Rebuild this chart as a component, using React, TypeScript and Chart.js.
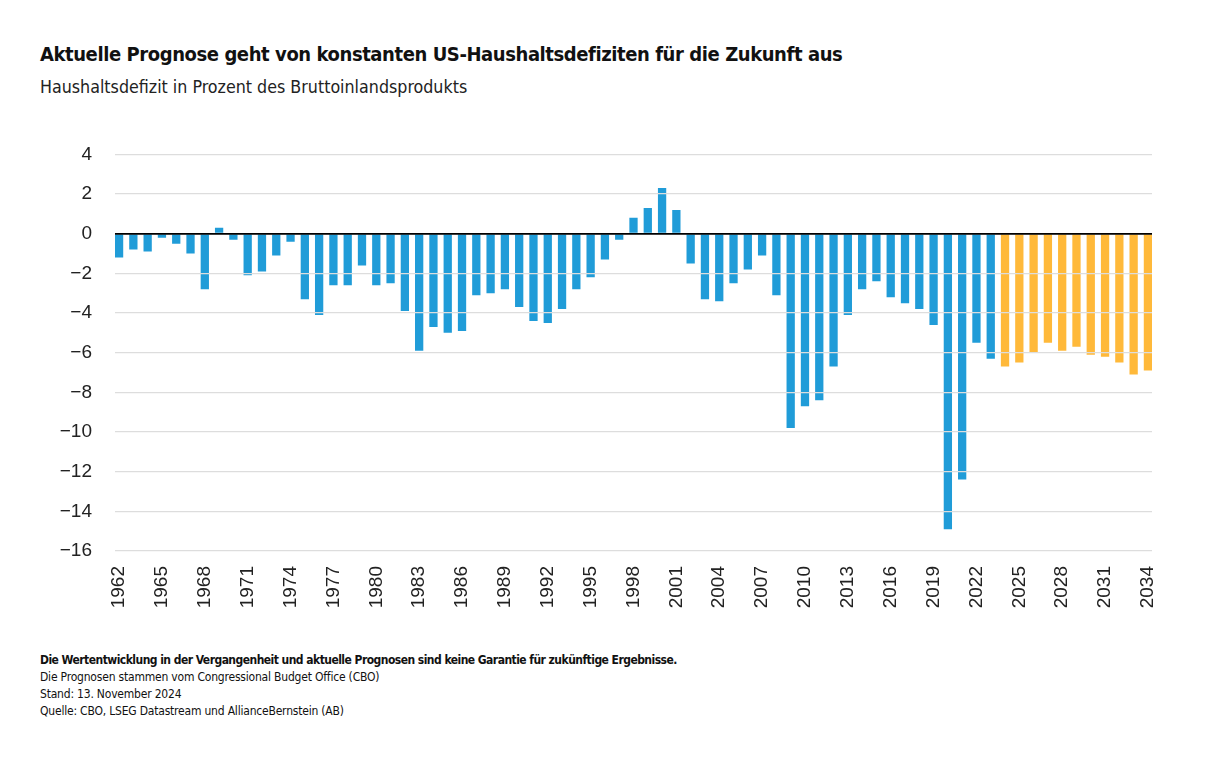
import React, { useEffect, useRef } from "react";
import { Chart, registerables } from "chart.js";

Chart.register(...registerables);

const TITLE = "Aktuelle Prognose geht von konstanten US-Haushaltsdefiziten für die Zukunft aus";
const SUBTITLE = "Haushaltsdefizit in Prozent des Bruttoinlandsprodukts";
const NOTES = [
  "Die Wertentwicklung in der Vergangenheit und aktuelle Prognosen sind keine Garantie für zukünftige Ergebnisse.",
  "Die Prognosen stammen vom Congressional Budget Office (CBO)",
  "Stand: 13. November 2024",
  "Quelle: CBO, LSEG Datastream und AllianceBernstein (AB)",
];

const histYears = [
  1962, 1963, 1964, 1965, 1966, 1967, 1968, 1969, 1970, 1971,
  1972, 1973, 1974, 1975, 1976, 1977, 1978, 1979, 1980, 1981,
  1982, 1983, 1984, 1985, 1986, 1987, 1988, 1989, 1990, 1991,
  1992, 1993, 1994, 1995, 1996, 1997, 1998, 1999, 2000, 2001,
  2002, 2003, 2004, 2005, 2006, 2007, 2008, 2009, 2010, 2011,
  2012, 2013, 2014, 2015, 2016, 2017, 2018, 2019, 2020, 2021,
  2022, 2023,
];
const histValues = [
  -1.2, -0.8, -0.9, -0.2, -0.5, -1.0, -2.8, 0.3, -0.3, -2.1,
  -1.9, -1.1, -0.4, -3.3, -4.1, -2.6, -2.6, -1.6, -2.6, -2.5,
  -3.9, -5.9, -4.7, -5.0, -4.9, -3.1, -3.0, -2.8, -3.7, -4.4,
  -4.5, -3.8, -2.8, -2.2, -1.3, -0.3, 0.8, 1.3, 2.3, 1.2,
  -1.5, -3.3, -3.4, -2.5, -1.8, -1.1, -3.1, -9.8, -8.7, -8.4,
  -6.7, -4.1, -2.8, -2.4, -3.2, -3.5, -3.8, -4.6, -14.9, -12.4,
  -5.5, -6.3,
];
const forecastYears = [2024, 2025, 2026, 2027, 2028, 2029, 2030, 2031, 2032, 2033, 2034];
const forecastValues = [-6.7, -6.5, -6.0, -5.5, -5.9, -5.7, -6.1, -6.2, -6.5, -7.1, -6.9];

const xTickYears = [
  1962, 1965, 1968, 1971, 1974, 1977, 1980, 1983, 1986, 1989, 1992, 1995,
  1998, 2001, 2004, 2007, 2010, 2013, 2016, 2019, 2022, 2025, 2028, 2031, 2034,
];
const yTicks = [4, 2, 0, -2, -4, -6, -8, -10, -12, -14, -16];

const BLUE = "#209CD8";
const ORANGE = "#FFB93A";

export default function App() {
  const canvasRef = useRef<HTMLCanvasElement | null>(null);

  useEffect(() => {
    const canvas = canvasRef.current;
    if (!canvas) return;
    const chart = new Chart(canvas, {
      type: "bar",
      data: {
        datasets: [
          {
            label: "Ist",
            data: histYears.map((y, i) => ({ x: y, y: histValues[i] })),
            backgroundColor: BLUE,
            grouped: false,
            categoryPercentage: 1,
            barPercentage: 0.58,
          } as any,
          {
            label: "Prognose",
            data: forecastYears.map((y, i) => ({ x: y, y: forecastValues[i] })),
            backgroundColor: ORANGE,
            grouped: false,
            categoryPercentage: 1,
            barPercentage: 0.58,
          } as any,
        ],
      },
      options: {
        animation: false,
        responsive: true,
        maintainAspectRatio: false,
        layout: { padding: { left: 0, right: 61, top: 31, bottom: 0 } },
        plugins: {
          legend: { display: false },
          tooltip: { enabled: false },
        },
        scales: {
          x: {
            type: "linear",
            offset: false,
            min: histYears[0] - 0.285,
            max: forecastYears[forecastYears.length - 1] + 0.285,
            afterBuildTicks: (scale: any) => {
              scale.ticks = xTickYears.map((v) => ({ value: v }));
            },
            afterFit: (scale: any) => {
              scale.height = 79;
            },
            grid: { display: false, drawTicks: false },
            border: { display: false },
            ticks: {
              autoSkip: false,
              minRotation: 90,
              maxRotation: 90,
              padding: 15,
              color: "#222",
              font: { family: "'Liberation Sans', Arial, sans-serif", size: 19 },
              callback: (v: any) => String(v),
            },
          },
          y: {
            min: -16,
            max: 4,
            afterBuildTicks: (scale: any) => {
              scale.ticks = yTicks.map((v) => ({ value: v }));
            },
            afterFit: (scale: any) => {
              scale.width = 115;
            },
            grid: {
              drawTicks: false,
              color: (ctx: any) => (ctx.tick && ctx.tick.value === 0 ? "#000" : "#dddddd"),
              lineWidth: (ctx: any) => (ctx.tick && ctx.tick.value === 0 ? 1.8 : 1.2),
              z: 1,
            },
            border: { display: false },
            ticks: {
              padding: 23,
              color: "#222",
              font: { family: "'Liberation Sans', Arial, sans-serif", size: 19 },
              callback: (v: any) => String(v).replace("-", "\u2212"),
            },
          },
        },
      },
    });
    return () => chart.destroy();
  }, []);

  const narrow = "'DejaVu Sans Condensed', 'Liberation Sans', Arial, sans-serif";

  return (
    <div
      style={{
        position: "fixed",
        left: 0,
        top: 0,
        width: 1213,
        height: 781,
        background: "#fff",
        overflow: "hidden",
      }}
    >
      <div
        style={{
          position: "absolute",
          left: 40,
          top: 43,
          fontFamily: narrow,
          fontWeight: 700,
          fontSize: 20,
          letterSpacing: "-0.42px",
          lineHeight: "22px",
          color: "#111",
          whiteSpace: "nowrap",
        }}
      >
        {TITLE}
      </div>
      <div
        style={{
          position: "absolute",
          left: 40,
          top: 77,
          fontFamily: narrow,
          fontSize: 17.7,
          lineHeight: "20px",
          color: "#222",
          whiteSpace: "nowrap",
        }}
      >
        {SUBTITLE}
      </div>
      <div style={{ position: "absolute", left: 0, top: 120, width: 1213, height: 510 }}>
        <canvas ref={canvasRef} />
      </div>
      <div
        style={{
          position: "absolute",
          left: 40,
          top: 652,
          fontFamily: narrow,
          fontSize: 12,
          lineHeight: "17px",
          color: "#111",
          whiteSpace: "nowrap",
        }}
      >
        {NOTES.map((t, i) => (
          <div
            key={i}
            style={{ fontWeight: i === 0 ? 700 : 400, letterSpacing: i === 0 ? "-0.54px" : "-0.2px" }}
          >
            {t}
          </div>
        ))}
      </div>
    </div>
  );
}
